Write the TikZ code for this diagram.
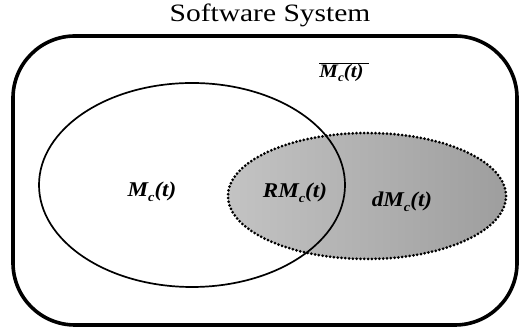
\documentclass[tikz,border=0pt]{standalone}
\usepackage{fontspec}
\setmainfont{Liberation Serif}
\newfontfamily\titlefont[FakeStretch=1.18]{Liberation Serif}
\newfontfamily\labfont[FakeStretch=1.1,BoldItalicFont={Liberation Serif Bold Italic}]{Liberation Serif}
\newcommand{\setlab}[1]{#1\raisebox{-0.45ex}{\fontsize{13}{13}\selectfont c}(t)}
\newcommand{\setlabsmall}[1]{#1\raisebox{-0.45ex}{\fontsize{12}{12}\selectfont c}(t)}
\begin{document}
\begin{tikzpicture}[x=1pt,y=1pt,
  lab/.style={anchor=base,inner sep=0pt,font=\labfont\bfseries\itshape\fontsize{21}{23}\selectfont},
  system/.style={draw=black,line width=3.6pt,rounded corners=62pt},
  setA/.style={draw=black,line width=1.7pt},
  setB/.style={line width=3pt,line cap=round,dash pattern=on 0pt off 3.8pt,draw=black,
    left color={rgb,255:red,195;green,195;blue,195},right color={rgb,255:red,158;green,158;blue,158}}]
\useasboundingbox (0,0) rectangle (519,328);
\node[anchor=base,inner sep=0pt,font=\titlefont\fontsize{25}{28}\selectfont] (title) at (270,306) {Software System};
\draw[system] (13,3) rectangle (517,292);
\coordinate (dc) at (367,132);
\coordinate (mc) at (192,143);
\path[setB] (dc) ellipse [x radius=139, y radius=63];
\draw[setA] (mc) ellipse [x radius=153, y radius=102];
\node[lab] (m) at (152,131) {\setlab{M}};
\node[lab] (rm) at (295,130) {\setlab{RM}};
\node[lab] (dm) at (402,121) {\setlab{dM}};
\node[lab,font=\labfont\bfseries\itshape\fontsize{19}{21}\selectfont] (mbar) at (344,250) {$\overline{\hbox{\setlabsmall{M}\kern5pt}}$};
\end{tikzpicture}
\end{document}
